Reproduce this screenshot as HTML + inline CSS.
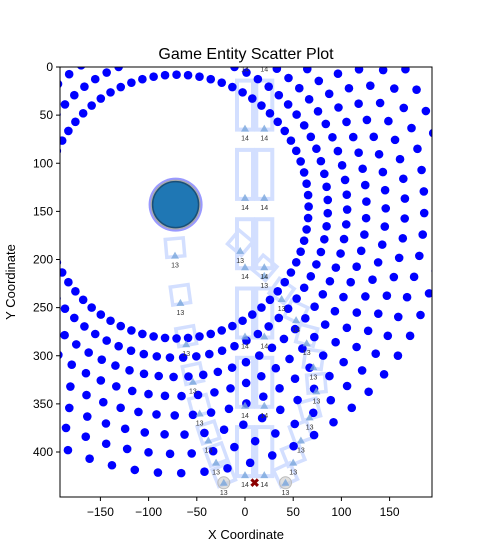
<!DOCTYPE html>
<html><head><meta charset="utf-8"><style>
html,body{margin:0;padding:0;background:#fff;}
svg{display:block;font-family:"Liberation Sans",sans-serif;}
</style></head><body>
<svg id="chart" width="480" height="560" viewBox="0 0 480 560">
<defs><clipPath id="clip"><rect x="60" y="67" width="372" height="430"/></clipPath></defs>
<rect x="0" y="0" width="480" height="560" fill="#fff"/>
<g id="plot" clip-path="url(#clip)"></g>
<g id="labels"></g>
<rect x="60" y="67" width="372" height="430" fill="none" stroke="#000" stroke-width="1"/>
<g id="axes"></g>
<text x="246" y="59" text-anchor="middle" font-size="16">Game Entity Scatter Plot</text>
<text x="246" y="539" text-anchor="middle" font-size="13">X Coordinate</text>
<text x="15" y="282" text-anchor="middle" font-size="13" transform="rotate(-90 15 282)">Y Coordinate</text>
</svg>
<script>
// ---- data ----
const ringCenter = [-71, 145];
const ringRadii = [137,157,177,197,217,237,257,277];
const ringPhaseDeg = [0,2.5,1,3.5,0.5,3,1.5,4];
const dotsPerRing = 72;
const roomX = [0,20];
const roomY = [-8,64,136,208,280,352,424];
const roomLabels = ["14","14"];
const chain13X = [-72.6,-67,-61,-54,-47,-38,-30,-22,-5,20,38,53,64,71,74,67,58,50,42];
const chain13Y = [196,245,288,327,360,388,411,432,191,217,241,263,287,312,337,364,388,411,432];
const chain13Rot = [-5,-8,-10,-12,-15,-18,-20,-22,40,40,35,25,15,8,-5,-15,-20,-22,-25];
const grayX = [-22,42];
const grayY = [432,432];
const playerX = [-72];
const playerY = [143];
const enemyX = [10];
const enemyY = [432];
const xTicks = [-150,-100,-50,0,50,100,150];
const yTicks = [0,50,100,150,200,250,300,350,400];
// ---- scales ----
const sx = v => 245 + 0.964*v;
const sy = v => 67 + 0.9625*v;
const NS = "http://www.w3.org/2000/svg";
const plot = document.getElementById('plot');
const labels = document.getElementById('labels');
const axes = document.getElementById('axes');
function mk(tag, attrs, parent){const e=document.createElementNS(NS,tag);for(const k in attrs)e.setAttribute(k,attrs[k]);parent.appendChild(e);return e;}

roomY.forEach(ry=>{roomX.forEach(rx=>{
  const r=mk('rect',{x:sx(rx)-8,y:sy(ry)-48,width:16,height:49,fill:'none',stroke:'#d3dfff','stroke-width':4},plot);
  
  
});});
chain13X.forEach((cx,i)=>{
  const px=sx(cx), py=sy(chain13Y[i]);
  const r=mk('rect',{x:px-9,y:py-17,width:18,height:18,fill:'none',stroke:'#d3dfff','stroke-width':3.5,transform:`rotate(${chain13Rot[i]} ${px} ${py-8})`},plot);
  
  
});
ringRadii.forEach((rr,k)=>{
  for(let j=0;j<dotsPerRing;j++){
    const a=(j*360/dotsPerRing+ringPhaseDeg[k])*Math.PI/180;
    const x=ringCenter[0]+rr*Math.cos(a), y=ringCenter[1]+rr*Math.sin(a);
    const px=sx(x), py=sy(y);
    if(px<50||px>442||py<57||py>507) continue;
    const c=mk('circle',{cx:px,cy:py,r:4.3,fill:'#0000ff'},plot);
    
    
  }
});
grayX.forEach((gx,i)=>{
  const c=mk('circle',{cx:sx(gx),cy:sy(grayY[i]),r:6,fill:'#cccccc','fill-opacity':0.6,stroke:'#bbbbbb','stroke-width':1},plot);
  
  
});
function tri(px,py,name){
  const t=mk('polygon',{points:`${px-4},${py+3} ${px+4},${py+3} ${px},${py-4}`,fill:'#7aa6dc','fill-opacity':0.8},plot);
  
  
}
function lab(px,py,txt,name){
  const t=mk('text',{x:px,y:py+12,'text-anchor':'middle','font-size':7,fill:'#333'},labels);
  t.textContent=txt;
  
  
}
roomY.forEach(ry=>{roomX.forEach((rx,i)=>{
  const px=sx(rx),py=sy(ry);
  tri(px,py,'room-marker');
  lab(px,py,roomLabels[i],'room-label');
});});
chain13X.forEach((cx,i)=>{
  const px=sx(cx),py=sy(chain13Y[i]);
  tri(px,py,'corridor-marker');
  lab(px,py,'13','corridor-label');
});
playerX.forEach((p,i)=>{
  const px=sx(p),py=sy(playerY[i]);
  const h=mk('circle',{cx:px,cy:py,r:27,fill:'#8080ff','fill-opacity':0.8},plot);
  
  
  const g=mk('circle',{cx:px,cy:py,r:25,fill:'#aaaaaa'},plot);
  
  
  const c=mk('circle',{cx:px,cy:py,r:23,fill:'#1f77b4',stroke:'#1a4f78','stroke-width':1.5},plot);
  
  
});
enemyX.forEach((e,i)=>{
  const px=sx(e),py=sy(enemyY[i]);
  const t=mk('text',{x:px,y:py+4,'text-anchor':'middle','font-size':12,'font-weight':'bold',fill:'#8b0000'},plot);
  t.textContent='✖';
  
  
});
xTicks.forEach(v=>{
  const px=sx(v);
  const l=mk('line',{x1:px,y1:497,x2:px,y2:501,stroke:'#000'},axes);
  
  
  const t=mk('text',{x:px,y:516,'text-anchor':'middle','font-size':12},axes);
  t.textContent=v<0?'\u2212'+Math.abs(v):String(v);
  
  
});
yTicks.forEach(v=>{
  const py=sy(v);
  const l=mk('line',{x1:56,y1:py,x2:60,y2:py,stroke:'#000'},axes);
  
  
  const t=mk('text',{x:53,y:py+4,'text-anchor':'end','font-size':12},axes);
  t.textContent=String(v);
  
  
});
</script>
</body></html>
